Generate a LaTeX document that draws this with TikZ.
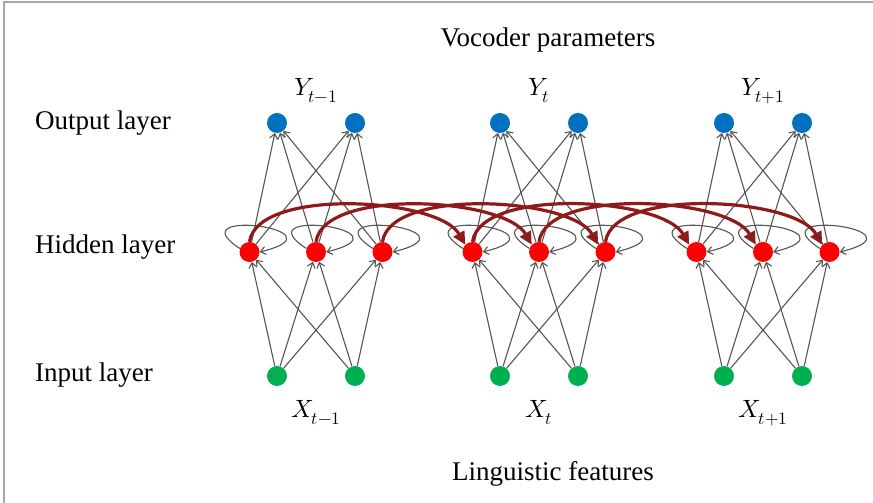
\documentclass[tikz,border=0pt]{standalone}
\usepackage{fontspec}
\usepackage{unicode-math}
\setmainfont{Liberation Serif}
\setmathfont{Latin Modern Math}
\usetikzlibrary{arrows.meta}
\definecolor{outblue}{HTML}{0070C0}
\definecolor{hidred}{HTML}{FF0000}
\definecolor{ingreen}{HTML}{00B050}
\definecolor{recred}{HTML}{8E1B1B}
\definecolor{linkgray}{HTML}{555555}
\definecolor{framegray}{HTML}{A6A6A6}

\begin{document}
\begin{tikzpicture}[
    x=1pt, y=1pt,
    font=\fontsize{27}{32}\selectfont,
    unit/.style={circle, inner sep=0pt, minimum size=20pt},
    outunit/.style={unit, fill=outblue},
    hidunit/.style={unit, fill=hidred},
    inunit/.style={unit, fill=ingreen},
    layerlbl/.style={anchor=base west, inner sep=0pt},
    steplbl/.style={anchor=base, inner sep=0pt, font=\fontsize{25}{30}\selectfont},
    link/.style={-{Straight Barb[length=5pt,width=8pt]}, draw=linkgray, line width=1.1pt},
    recur/.style={-{Triangle[length=13pt,width=12pt]}, draw=recred, line width=3.2pt}
]
  \useasboundingbox (0,0) rectangle (873,503);
  \draw[framegray, line width=1.5pt] (4,0) -- (4,501) -- (873,501);

  \node[anchor=base, inner sep=0pt] (vocoder) at (548,456) {Vocoder parameters};
  \node[anchor=base, inner sep=0pt] (ling) at (553,22) {Linguistic features};
  \node[layerlbl] (outlbl) at (35,373) {Output layer};
  \node[layerlbl] (hidlbl) at (35,249) {Hidden layer};
  \node[layerlbl] (inlbl) at (35,121) {Input layer};

  \foreach \g/\c/\s in {1/316/{t-1}, 2/539/t, 3/763/{t+1}} {
    \node[outunit] (o\g1) at (\c-39,380) {};
    \node[outunit] (o\g2) at (\c+39,380) {};
    \node[hidunit] (h\g1) at (\c-66.5,251) {};
    \node[hidunit] (h\g2) at (\c,251) {};
    \node[hidunit] (h\g3) at (\c+66.5,251) {};
    \node[inunit] (i\g1) at (\c-39,127) {};
    \node[inunit] (i\g2) at (\c+39,127) {};
    \node[steplbl] (y\g) at (\c,407) {$Y_{\s}$};
    \node[steplbl] (x\g) at (\c,85) {$X_{\s}$};
  }

  \foreach \g in {1,2,3} {
    \foreach \h in {1,2,3} {
      \foreach \k in {1,2} {
        \draw[link] (h\g\h) -- (o\g\k);
        \draw[link] (i\g\k) -- (h\g\h);
      }
      \draw[link] (h\g\h.160) .. controls +(-65,42) and +(90,22) .. (h\g\h.east);
    }
  }

  \foreach \g/\n in {1/2, 2/3} {
    \foreach \h in {1,2,3} {
      \draw[recur] (h\g\h.north) to[out=82, in=120, looseness=0.65] (h\n\h.north west);
    }
  }
\end{tikzpicture}
\end{document}
